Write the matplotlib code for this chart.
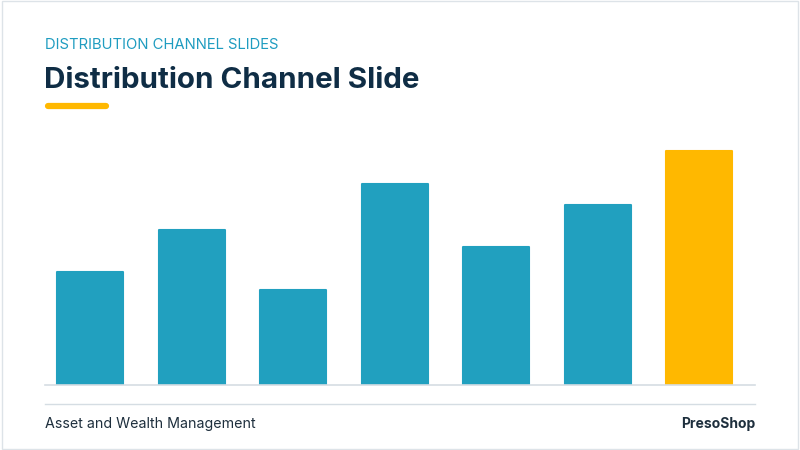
import matplotlib
matplotlib.use("Agg")
import matplotlib.pyplot as plt
from matplotlib.lines import Line2D
from matplotlib.patches import Rectangle

categories = ["A", "B", "C", "D", "E", "F", "G"]
values = [113, 155, 95, 201, 138, 180, 234]
colors = ["#21a0bf"] * 6 + ["#ffb800"]

W, H = 800, 450
fig = plt.figure(figsize=(8, 4.5), dpi=100)
fig.patch.set_facecolor("white")
fig.patches.append(Rectangle((0.002, 0.003), 0.996, 0.994, transform=fig.transFigure,
                             fill=False, edgecolor="#dde3e8", linewidth=1))

def fx(x): return x / W
def fy(y): return 1 - y / H

ax = fig.add_axes([fx(45), fy(385), (755 - 45) / W, (385 - 140) / H])
x = list(range(len(categories)))
ax.bar(x, values, width=0.65, color=colors, edgecolor=colors, linewidth=1.5,
       joinstyle="round")
ax.set_xlim(-0.448, 6.547)
ax.set_ylim(0, 245)
ax.axis("off")

fig.add_artist(Line2D([fx(45), fx(755)], [fy(385), fy(385)], color="#d5dde3", lw=1.2))
fig.add_artist(Line2D([fx(45), fx(755)], [fy(404), fy(404)], color="#d5dde3", lw=1))
fig.add_artist(Line2D([fx(48), fx(106)], [fy(106), fy(106)], color="#ffb800", lw=4.5,
                      solid_capstyle="round"))

fig.text(fx(45), fy(45), "DISTRIBUTION CHANNEL SLIDES", color="#1f9cc0", fontsize=10.7,
         family="Inter", va="center", ha="left")
fig.text(fx(44), fy(80), "Distribution Channel Slide", color="#0f2d45", fontsize=21.3,
         fontweight="bold", family="Inter", va="center", ha="left")
fig.text(fx(45), fy(424), "Asset and Wealth Management", color="#1e2f3d", fontsize=10.25,
         family="Inter", va="center", ha="left")
fig.text(fx(755), fy(424), "PresoShop", color="#1e2f3d", fontsize=10, fontweight="bold",
         family="Inter", va="center", ha="right")

fig.savefig("out.png", dpi=100, facecolor="white")
